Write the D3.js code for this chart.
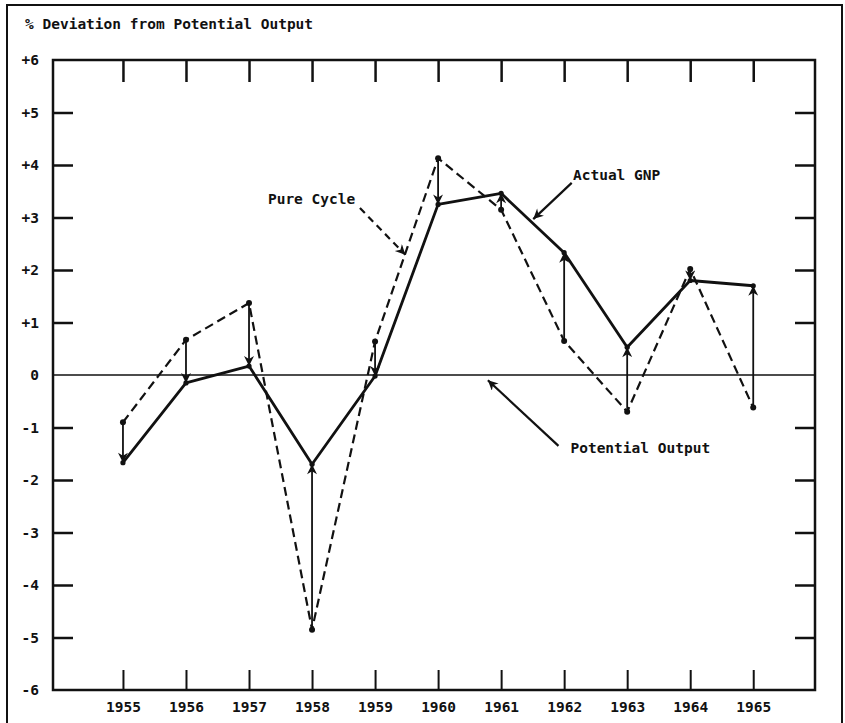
<!DOCTYPE html>
<html>
<head>
<meta charset="utf-8">
<script src="https://cdn.jsdelivr.net/npm/d3@7"></script>
<style>
  body { margin: 0; background: #fff; }
  svg { display: block; }
  text { font-family: "DejaVu Sans Mono", "Liberation Mono", monospace; font-weight: bold; fill: #111; }
</style>
</head>
<body>
<svg id="chart" width="845" height="723"></svg>
<script>
// values
const years = [1955, 1956, 1957, 1958, 1959, 1960, 1961, 1962, 1963, 1964, 1965];
const actualGNP = [-1.67, -0.15, 0.17, -1.70, -0.02, 3.25, 3.46, 2.33, 0.53, 1.80, 1.70];
const pureCycle = [-0.90, 0.67, 1.37, -4.85, 0.64, 4.13, 3.15, 0.65, -0.70, 2.02, -0.62];
const yTicks = [6, 5, 4, 3, 2, 1, 0, -1, -2, -3, -4, -5, -6];
const yTickLabels = ["+6", "+5", "+4", "+3", "+2", "+1", "0", "-1", "-2", "-3", "-4", "-5", "-6"];
const sideTicks = [5, 4, 3, 2, 1, -1, -2, -3, -4, -5];

// label + arrow notes, in data units
const notes = [
    {text: "Pure Cycle", tx: 1957.30, ty: 3.26, x1: 1958.76, y1: 3.18, x2: 1959.48, y2: 2.29, dashed: true},
    {text: "Actual GNP", tx: 1962.14, ty: 3.71, x1: 1962.12, y1: 3.66, x2: 1961.51, y2: 2.97, dashed: false},
    {text: "Potential Output", tx: 1962.10, ty: -1.49, x1: 1961.91, y1: -1.35, x2: 1960.79, y2: -0.10, dashed: false}
];

const svg = d3.select("#chart");
const box = {left: 53, right: 815, top: 60, bottom: 690};

const x = d3.scaleLinear()
    .domain([1953.89, 1965.98])
    .range([box.left, box.right]);

const y = d3.scaleLinear()
    .domain([-6, 6])
    .range([box.bottom, box.top]);

const ink = "#111";

// arrowhead
svg.append("defs").append("marker")
    .attr("id", "head")
    .attr("markerUnits", "userSpaceOnUse")
    .attr("viewBox", "0 0 10 10")
    .attr("refX", 10)
    .attr("refY", 5)
    .attr("markerWidth", 13)
    .attr("markerHeight", 10)
    .attr("orient", "auto")
    .append("path")
    .attr("d", "M0,0 L10,5 L0,10 L3,5 Z")
    .attr("fill", ink);

// outer frame
svg.append("rect")
    .attr("x", 7).attr("y", 5)
    .attr("width", 835).attr("height", 740)
    .attr("fill", "none")
    .attr("stroke", ink)
    .attr("stroke-width", 2);

svg.append("text")
    .attr("x", 25)
    .attr("y", 29)
    .attr("font-size", 14.5)
    .text("% Deviation from Potential Output");

// plot box
svg.append("rect")
    .attr("x", box.left).attr("y", box.top)
    .attr("width", box.right - box.left).attr("height", box.bottom - box.top)
    .attr("fill", "none")
    .attr("stroke", ink)
    .attr("stroke-width", 2.5);

function styleAxis(g) {
    g.select(".domain").remove();
    g.selectAll("line").attr("stroke", ink).attr("stroke-width", 2.5);
    g.selectAll("text").attr("fill", ink).attr("font-size", 14.5).attr("font-family", null);
}

svg.append("g")
    .attr("transform", `translate(${box.left},0)`)
    .call(d3.axisLeft(y)
            .tickValues(yTicks.filter(d => Math.abs(d) < 6 && d !== 0))
            .tickSize(-20)
            .tickFormat(""))
    .call(styleAxis);

svg.append("g")
    .attr("transform", `translate(${box.left},0)`)
    .call(d3.axisLeft(y)
            .tickValues(yTicks)
            .tickSize(0)
            .tickPadding(14)
            .tickFormat((d, i) => yTickLabels[i]))
    .call(styleAxis);

svg.append("g")
    .attr("transform", `translate(${box.right},0)`)
    .call(d3.axisRight(y)
            .tickValues(sideTicks)
            .tickSize(-20)
            .tickFormat(""))
    .call(styleAxis);

svg.append("g")
    .attr("transform", `translate(0,${box.top})`)
    .call(d3.axisTop(x)
            .tickValues(years)
            .tickSize(-22)
            .tickFormat(""))
    .call(styleAxis);

svg.append("g")
    .attr("transform", `translate(0,${box.bottom})`)
    .call(d3.axisBottom(x)
            .tickValues(years)
            .tickSize(-20)
            .tickPadding(12)
            .tickFormat(d3.format("d")))
    .call(styleAxis)
    .selectAll("line")
    .attr("stroke-width", 2);

// potential output
svg.append("line")
    .attr("x1", box.left).attr("x2", box.right)
    .attr("y1", y(0)).attr("y2", y(0))
    .attr("stroke", ink)
    .attr("stroke-width", 1.7);

const pts = years.map((yr, i) => ({year: yr, actual: actualGNP[i], pure: pureCycle[i]}));

// pure cycle, dashed
svg.append("path")
    .datum(pts)
    .attr("fill", "none")
    .attr("stroke", ink)
    .attr("stroke-width", 2.2)
    .attr("stroke-dasharray", "9,5")
    .attr("d", d3.line().x(d => x(d.year)).y(d => y(d.pure)));

// actual gnp
svg.append("path")
    .datum(pts)
    .attr("fill", "none")
    .attr("stroke", ink)
    .attr("stroke-width", 2.8)
    .attr("stroke-linejoin", "round")
    .attr("d", d3.line().x(d => x(d.year)).y(d => y(d.actual)));

// arrows from pure cycle to actual
svg.append("g")
    .selectAll("line")
    .data(pts)
    .join("line")
    .attr("x1", d => x(d.year))
    .attr("x2", d => x(d.year))
    .attr("y1", d => y(d.pure))
    .attr("y2", d => y(d.actual))
    .attr("stroke", ink)
    .attr("stroke-width", 1.8)
    .attr("marker-end", "url(#head)");

svg.append("g")
    .selectAll("circle")
    .data(pts)
    .join("circle")
    .attr("cx", d => x(d.year))
    .attr("cy", d => y(d.pure))
    .attr("r", 3)
    .attr("fill", ink);

svg.append("g")
    .selectAll("circle")
    .data(pts)
    .join("circle")
    .attr("cx", d => x(d.year))
    .attr("cy", d => y(d.actual))
    .attr("r", 2.6)
    .attr("fill", ink);

// notes
const ng = svg.append("g");
ng.selectAll("text")
    .data(notes)
    .join("text")
    .attr("x", d => x(d.tx))
    .attr("y", d => y(d.ty))
    .attr("font-size", 14.5)
    .text(d => d.text);

ng.selectAll("line")
    .data(notes)
    .join("line")
    .attr("x1", d => x(d.x1))
    .attr("y1", d => y(d.y1))
    .attr("x2", d => x(d.x2))
    .attr("y2", d => y(d.y2))
    .attr("stroke", ink)
    .attr("stroke-width", 2.2)
    .attr("stroke-dasharray", d => d.dashed ? "7,5" : null)
    .attr("marker-end", "url(#head)");
</script>
</body>
</html>
